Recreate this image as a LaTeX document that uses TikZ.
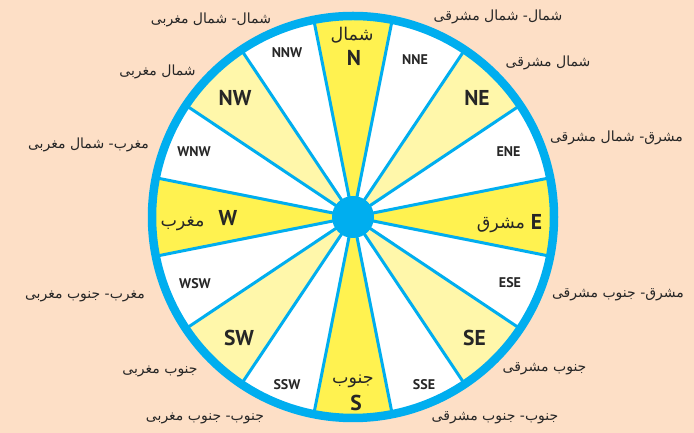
\documentclass[tikz,border=0pt]{standalone}
\usepackage{fontspec}
\setmainfont{PT Sans}
\newfontfamily\arabicfont[Script=Arabic]{DejaVu Sans}
\TeXXeTstate=1
\newcommand\artext[1]{{\arabicfont\beginR #1\endR}}
\definecolor{bgpeach}{RGB}{253,223,198}
\definecolor{brightyel}{RGB}{255,242,80}
\definecolor{paleyel}{RGB}{255,247,170}
\definecolor{compblue}{RGB}{0,174,239}
\tikzset{
  small/.style={font=\bfseries\fontsize{14}{14}\selectfont, text=black!85, inner sep=0pt},
  big/.style={font=\bfseries\fontsize{21.5}{21.5}\selectfont, text=black!85, inner sep=0pt},
  outer/.style={font=\fontsize{14}{14}\selectfont, text=black!85, inner sep=0pt},
  inner/.style={font=\fontsize{17.5}{17.5}\selectfont, text=black!85, inner sep=0pt},
  radial/.style={draw=compblue, line width=3pt},
}
\begin{document}
\begin{tikzpicture}[x=1pt,y=1pt]
\fill[bgpeach] (0,0) rectangle (694,433);
\useasboundingbox (0,0) rectangle (694,433);
\coordinate (c) at (353,216);
\def\R{201}
\foreach \i in {0,...,15} {
  \pgfmathsetmacro\a{90-\i*22.5}
  \pgfmathtruncatemacro\m{mod(\i,4)}
  \ifnum\m=0 \def\col{brightyel}\else\ifnum\m=2 \def\col{paleyel}\else\def\col{white}\fi\fi
  \fill[\col] (c) -- ++(\a-11.25:\R) arc[start angle=\a-11.25, delta angle=22.5, radius=\R] -- cycle;
}
\foreach \i in {0,...,15} {
  \pgfmathsetmacro\a{90-\i*22.5+11.25}
  \draw[radial] (c) -- ++(\a:\R);
}
\draw[compblue, line width=8.5pt] (c) circle[radius=\R];
\fill[compblue] (c) circle[radius=21];

% inner labels
\node[big] (N) at (354,375) {N};
\node[inner] (Nar) at (352,398) {\artext{شمال}};
\node[small] (NNE) at (415,373) {NNE};
\node[big] (NE) at (477,335) {NE};
\node[small] (ENE) at (508.5,281) {ENE};
\node[big] (E) at (536.5,211) {E};
\node[inner] (Ear) at (501,208) {\artext{مشرق}};
\node[small] (ESE) at (510,150) {ESE};
\node[big] (SE) at (474.5,95) {SE};
\node[small] (SSE) at (424,48) {SSE};
\node[big] (S) at (356,30) {S};
\node[inner] (Sar) at (353,52) {\artext{جنوب}};
\node[small] (SSW) at (287,48) {SSW};
\node[big] (SW) at (239,95) {SW};
\node[small] (WSW) at (195,149) {WSW};
\node[big] (W) at (228,215) {W};
\node[inner] (War) at (182.5,209) {\artext{مغرب}};
\node[small] (WNW) at (194,281) {WNW};
\node[big] (NW) at (235,335) {NW};
\node[small] (NNW) at (287,380) {NNW};

% outer labels
\node[outer] (L1) at (211,413) {\artext{شمال- شمال مغربی}};
\node[outer] (L2) at (157.5,361) {\artext{شمال مغربی}};
\node[outer] (L3) at (88.5,288) {\artext{مغرب- شمال مغربی}};
\node[outer] (L4) at (85,137) {\artext{مغرب- جنوب مغربی}};
\node[outer] (L5) at (160,62) {\artext{جنوب مغربی}};
\node[outer] (L6) at (205,15) {\artext{جنوب- جنوب مغربی}};
\node[outer] (R1) at (498,416) {\artext{شمال- شمال مشرقی}};
\node[outer] (R2) at (548,370) {\artext{شمال مشرقی}};
\node[outer] (R3) at (616.5,295) {\artext{مشرق- شمال مشرقی}};
\node[outer] (R4) at (618,138) {\artext{مشرق- جنوب مشرقی}};
\node[outer] (R5) at (544.5,64) {\artext{جنوب مشرقی}};
\node[outer] (R6) at (495,15) {\artext{جنوب- جنوب مشرقی}};
\end{tikzpicture}
\end{document}
